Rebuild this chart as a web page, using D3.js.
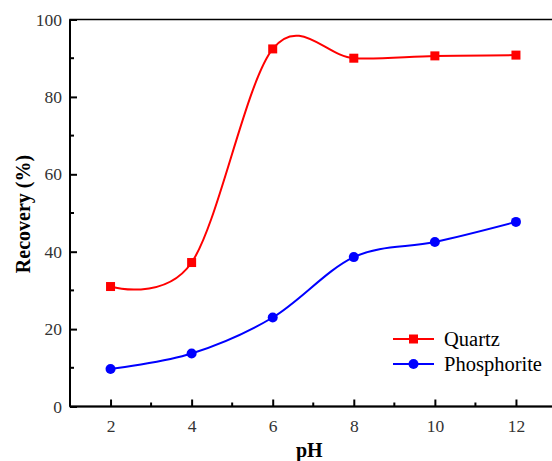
<!DOCTYPE html>
<html><head><meta charset="utf-8">
<script src="https://cdn.jsdelivr.net/npm/d3@7"></script>
<style>body{margin:0;background:#fff}svg{display:block}
text{font-family:"Liberation Serif","Times New Roman","DejaVu Serif",serif}</style>
</head><body>
<svg id="c" width="552" height="461"></svg>
<script>
const pH = [2, 4, 6, 8, 10, 12];
const quartz = [31.0, 37.2, 92.4, 90.0, 90.6, 90.8];
const phosphorite = [9.7, 13.7, 23.0, 38.6, 42.5, 47.7];
const xTicks = [2, 4, 6, 8, 10, 12];
const yTicks = [0, 20, 40, 60, 80, 100];
const seriesNames = ["Quartz", "Phosphorite"];

const svg = d3.select("#c");
const L = 70, R = 556.5, T = 19.5, B = 406.5;
const x = d3.scaleLinear().domain([1, 13]).range([L, R]);
const y = d3.scaleLinear().domain([0, 100]).range([B, T]);
const font = "Liberation Serif";

svg.append("rect").attr("x", L).attr("y", T).attr("width", R - L).attr("height", B - T)
  .attr("fill", "none").attr("stroke", "#000").attr("stroke-width", 1.5);

const xa = svg.append("g").attr("transform", `translate(0,${B})`)
  .call(d3.axisBottom(x).tickValues(xTicks).tickSize(-7).tickPadding(13).tickFormat(d3.format("d")));
xa.attr("font-family", null);
xa.select(".domain").remove();
xa.selectAll("line").attr("stroke", "#000").attr("stroke-width", 2);
xa.selectAll("text").style("font-family", font).attr("font-size", 17.5).attr("fill", "#333");
svg.append("g").selectAll("line").data(d3.range(3, 13, 2)).join("line")
  .attr("x1", d => x(d)).attr("x2", d => x(d)).attr("y1", B).attr("y2", B - 4)
  .attr("stroke", "#000").attr("stroke-width", 2);

const ya = svg.append("g").attr("transform", `translate(${L},0)`)
  .call(d3.axisLeft(y).tickValues(yTicks).tickSize(-7).tickPadding(8).tickFormat(d3.format("d")));
ya.attr("font-family", null);
ya.select(".domain").remove();
ya.selectAll("line").attr("stroke", "#000").attr("stroke-width", 2);
ya.selectAll("text").style("font-family", font).attr("font-size", 17.5).attr("fill", "#333");
svg.append("g").selectAll("line").data(d3.range(10, 100, 20)).join("line")
  .attr("x1", L).attr("x2", L + 4).attr("y1", d => y(d)).attr("y2", d => y(d))
  .attr("stroke", "#000").attr("stroke-width", 2);

svg.append("line").attr("x1", L).attr("x2", R).attr("y1", B).attr("y2", B).attr("stroke", "#000").attr("stroke-width", 2);
svg.append("line").attr("x1", L).attr("x2", L).attr("y1", T).attr("y2", B).attr("stroke", "#000").attr("stroke-width", 2);

svg.append("text").attr("x", x(7) - 4).attr("y", 457).attr("text-anchor", "middle")
  .style("font-family", font).attr("font-weight", "bold").attr("font-size", 20).text("pH");
svg.append("text").attr("transform", `translate(30,${(T + B) / 2 + 1}) rotate(-90)`).attr("text-anchor", "middle")
  .style("font-family", font).attr("font-weight", "bold").attr("font-size", 20).text("Recovery (%)");

const line = d3.line().x(d => x(d[0])).y(d => y(d[1])).curve(d3.curveCardinal.tension(0));
const qd = pH.map((p, i) => [p, quartz[i]]);
const pd = pH.map((p, i) => [p, phosphorite[i]]);

svg.append("path").attr("d", line(qd)).attr("fill", "none").attr("stroke", "#ff0000").attr("stroke-width", 2);
svg.append("path").attr("d", line(pd)).attr("fill", "none").attr("stroke", "#0000ff").attr("stroke-width", 2);

svg.append("g").selectAll("rect").data(qd).join("rect")
  .attr("x", d => x(d[0]) - 4.5).attr("y", d => y(d[1]) - 4.5).attr("width", 9).attr("height", 9).attr("fill", "#ff0000");
svg.append("g").selectAll("circle").data(pd).join("circle")
  .attr("cx", d => x(d[0])).attr("cy", d => y(d[1])).attr("r", 5).attr("fill", "#0000ff");

const lg = svg.append("g");
const ly = [339, 364];
const cols = ["#ff0000", "#0000ff"];
seriesNames.forEach((n, i) => {
  lg.append("line").attr("x1", 393).attr("x2", 434).attr("y1", ly[i]).attr("y2", ly[i]).attr("stroke", cols[i]).attr("stroke-width", 2);
  if (i === 0) lg.append("rect").attr("x", 409).attr("y", ly[i] - 4.5).attr("width", 9).attr("height", 9).attr("fill", cols[i]);
  else lg.append("circle").attr("cx", 413.5).attr("cy", ly[i]).attr("r", 5).attr("fill", cols[i]);
  lg.append("text").attr("x", 444).attr("y", ly[i] + 6.5).style("font-family", font).attr("font-size", 20.5).text(n);
});
</script>
</body></html>
